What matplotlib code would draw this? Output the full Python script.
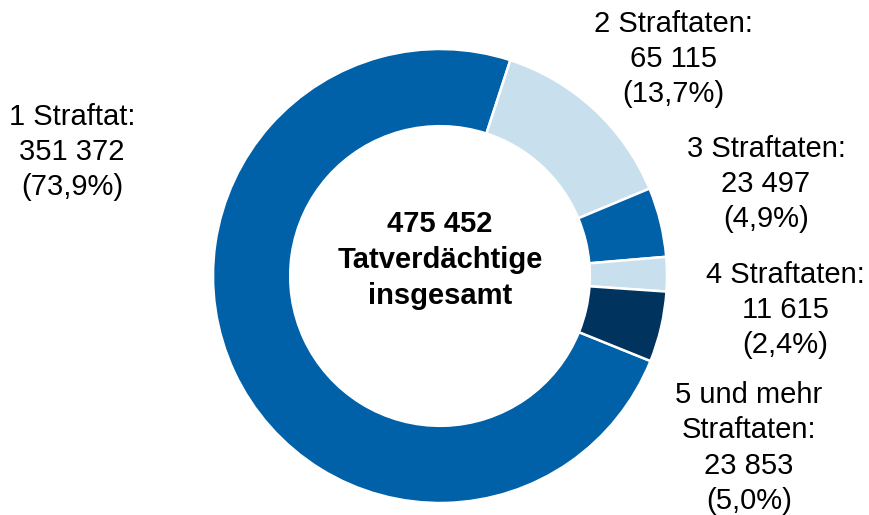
import matplotlib.pyplot as plt

plt.rcParams['font.family'] = ['Liberation Sans', 'DejaVu Sans']

# Data
categories = ['1 Straftat', '2 Straftaten', '3 Straftaten', '4 Straftaten', '5 und mehr\nStraftaten']
counts = [351372, 65115, 23497, 11615, 23853]
shares = ['73,9%', '13,7%', '4,9%', '2,4%', '5,0%']
total = 475452
colors = ['#0060A8', '#C8E0EE', '#0060A8', '#C8E0EE', '#00335E']

W, H = 870, 515
cx, cy, R = 440, 276, 227  # pie centre and radius in pixels


def px(x, y):
    # pixel position -> data coordinates (pie radius = 1)
    return (x - cx) / R, (cy - y) / R


def fmt(n):
    return f'{n:,}'.replace(',', ' ')


fig = plt.figure(figsize=(W / 100, H / 100), dpi=100)
ax = fig.add_axes([0, 0, 1, 1])
ax.pie(counts, colors=colors, startangle=-22, counterclock=False, radius=1,
       wedgeprops=dict(width=0.34, edgecolor='white', linewidth=1.8))
ax.set_xlim(px(0, 0)[0], px(W, 0)[0])
ax.set_ylim(px(0, H)[1], px(0, 0)[1])
ax.set_aspect('auto')
ax.axis('off')

# Label positions (pixel centres of each label block)
label_pos = [(72, 152), (673, 59), (766, 184), (785, 310), (749, 448)]
for cat, n, s, (x, y) in zip(categories, counts, shares, label_pos):
    ax.text(*px(x, y), f'{cat}:\n{fmt(n)}\n({s})', ha='center', va='center',
            fontsize=21, linespacing=1.33, color='black')

ax.text(*px(440, 260), f'{fmt(total)}\nTatverdächtige\ninsgesamt', ha='center',
        va='center', fontsize=21, fontweight='bold', linespacing=1.36)

fig.savefig('out.png', dpi=100)
